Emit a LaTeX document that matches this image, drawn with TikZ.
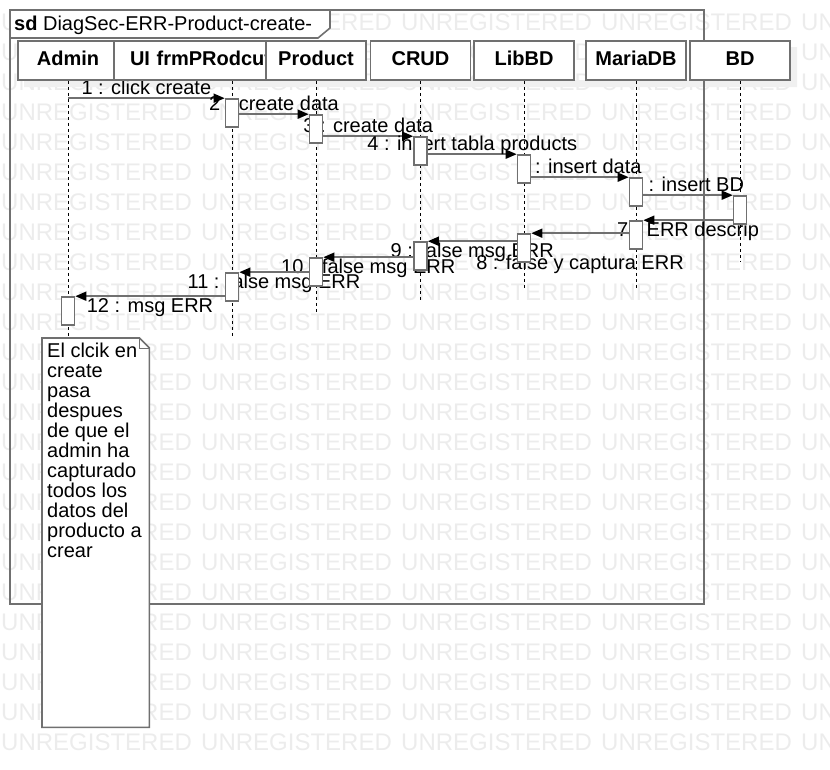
\documentclass[tikz,border=0pt]{standalone}
\usepackage{fontspec}
\setmainfont{Liberation Sans}
\usepackage{tikz}
\usetikzlibrary{arrows.meta}
\definecolor{linegray}{RGB}{112,112,112}
\definecolor{markgray}{RGB}{236,236,236}
\pgfdeclarelayer{wm}
\pgfdeclarelayer{back}
\pgfsetlayers{wm,back,main}

\begin{document}
\begin{tikzpicture}[x=1pt, y=-1pt, >={Triangle[length=11pt,width=9pt,color=black]},
    every node/.style={font=\fontsize{20}{20}\selectfont},
    head/.style={draw=linegray, line width=1.6pt, fill=white, minimum width=100pt, minimum height=39pt,
        inner sep=0pt, text height=14.3pt, text depth=4.5pt, font=\fontsize{20}{20}\selectfont\bfseries},
    act/.style={draw=linegray, line width=1.6pt, fill=white, minimum width=13pt, minimum height=28pt, inner sep=0pt},
    msg/.style={draw=linegray, line width=1.6pt, ->},
    life/.style={black, line width=0.8pt, dash pattern=on 3pt off 3pt},
    over/.style={anchor=base, yshift=4pt, inner sep=0pt},
    under/.style={anchor=base, yshift=-16pt, inner sep=0pt},
    wmark/.style={anchor=base west, inner sep=0pt, text=markgray, font=\fontsize{24}{24}\selectfont}]

    \useasboundingbox (0,0) rectangle (830,769);

    % cabeceras
    \node[head] (admin) at (68,60.5) {Admin};
    \node[head, minimum width=236pt, text width=204pt, align=left] (ui) at (232,60.5) {UI frmPRodcut};
    \node[head] (prod) at (316,60.5) {Product};
    \node[head] (crud) at (420.5,60.5) {CRUD};
    \node[head] (lib) at (524,60.5) {LibBD};
    \node[head] (maria) at (636,60.5) {MariaDB};
    \node[head] (bd) at (740,60.5) {BD};

    % activaciones
    \foreach \n/\h/\y in {adminA/admin/311, uiA1/ui/113, prodA1/prod/129, crudA1/crud/151, libA1/lib/169,
        mariaA1/maria/192, bdA/bd/210, mariaA2/maria/235, libA2/lib/248, crudA2/crud/256, prodA2/prod/272, uiA2/ui/287}
        \node[act] (\n) at (\h |- 0,\y) {};

    \begin{pgfonlayer}{wm}
        \foreach \r in {1,...,25}
            \foreach \c in {0,...,4}
                \node[wmark] (wm-\r-\c) at (1+\c*200, \r*30) {UNREGISTERED};
    \end{pgfonlayer}

    \begin{pgfonlayer}{back}
        \fill[black!6] (24,80) rectangle (797,87) (790,47) rectangle (797,80);
        \draw[linegray, line width=1.6pt] (10,10) rectangle (704,604);
        \draw[linegray, line width=1.6pt, fill=white] (10,10) -- (330,10) -- (330,28) -- (318,38) -- (10,38) -- cycle;
        \node[anchor=base west, inner sep=0pt] (title) at (14,30) {\textbf{sd} DiagSec-ERR-Product-create-};

        \foreach \n/\e in {admin/340, ui/336, prod/313, crud/300, lib/288, maria/288, bd/262} {
            \coordinate (\n End) at (\n.south |- 0,\e);
            \draw[life] (\n.south) -- (\n End);
        }

        \draw[msg] (adminA |- uiA1.north) -- (uiA1.north west) node[midway, over] {1 : click create};
        \draw[msg] (uiA1.east |- prodA1.north) -- (prodA1.north west) node[midway, over] {2 : create data};
        \draw[msg] (prodA1.east |- crudA1.north) -- (crudA1.north west) node[midway, over] {3 : create data};
        \draw[msg] (crudA1.east |- libA1.north) -- (libA1.north west) node[midway, over] {4 : insert tabla products};
        \draw[msg] (libA1.east |- mariaA1.north) -- (mariaA1.north west) node[midway, over] {5 : insert data};
        \draw[msg] (mariaA1.east |- bdA.north) -- (bdA.north west) node[midway, over] {6 : insert BD};
        \draw[msg] (bdA.west |- mariaA2.north) -- (mariaA2.north east) node[midway, under] {7 : ERR descrip};
        \draw[msg] (mariaA2.west |- libA2.north) -- (libA2.north east) node[midway, under, yshift=-20pt] {8 : false y captura ERR};
        \draw[msg] (libA2.west |- crudA2.north) -- (crudA2.north east) node[midway, under] {9 : false msg ERR};
        \draw[msg] (crudA2.west |- prodA2.north) -- (prodA2.north east) node[midway, under] {10 : false msg ERR};
        \draw[msg] (prodA2.west |- uiA2.north) -- (uiA2.north east) node[midway, under] {11 : false msg ERR};
        \draw[msg] (uiA2.west |- adminA.north) -- (adminA.north east) node[midway, under] {12 : msg ERR};
    \end{pgfonlayer}

    % nota
    \node[minimum width=107pt, minimum height=389pt, anchor=north west, inner sep=0pt] (note) at (42,338) {};
    \draw[linegray, line width=1.6pt, fill=white] (note.north west) -- ([xshift=-10pt]note.north east)
        -- ([yshift=-10pt]note.north east) -- (note.south east) -- (note.south west) -- cycle;
    \draw[linegray, line width=0.8pt] ([xshift=-10pt]note.north east) -- ([xshift=-10pt,yshift=-10pt]note.north east)
        -- ([yshift=-10pt]note.north east);
    \node[anchor=north west, inner sep=0pt, align=left] (noteText) at ([xshift=5pt,yshift=-5pt]note.north west)
        {El clcik en\\create\\pasa\\despues\\de que el\\admin ha\\capturado\\todos los\\datos del\\producto a\\crear};

\end{tikzpicture}
\end{document}
